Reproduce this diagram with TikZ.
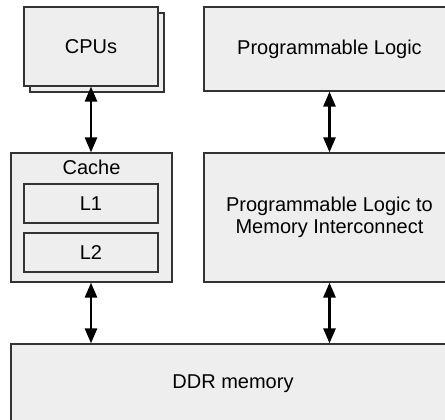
\documentclass[tikz,border=0pt]{standalone}
\usepackage{fontspec}
\setmainfont{Liberation Sans}
\usetikzlibrary{arrows.meta}
\definecolor{boxfill}{HTML}{EEEEEE}
\definecolor{boxline}{HTML}{333333}
\begin{document}
\begin{tikzpicture}[x=1pt,y=-1pt,
  block/.style={draw=boxline,fill=boxfill,line width=1.2pt,inner sep=0pt,
    font=\fontsize{20}{21.5}\selectfont,align=center},
  biarrow/.style={line width=2.6pt,black,
    {Triangle[width=12pt,length=15pt]}-{Triangle[width=12pt,length=15pt]}}]
\useasboundingbox (0,0) rectangle (445,420);
\clip (0,0) rectangle (445,420);
% CPU stack: back copy, then front box
\node[block,minimum width=134pt,minimum height=79pt] (cpuback) at (97,52.5) {};
\node[block,minimum width=134pt,minimum height=79pt] (cpu) at (91,46.5) {CPUs};
% cache with its two levels
\node[block,minimum width=161pt,minimum height=129pt] (cache) at (91.5,217.5) {};
\node[font=\fontsize{20}{22}\selectfont,inner sep=0pt] (cachelbl) at (91.5,167.5) {Cache};
\node[block,minimum width=134pt,minimum height=39pt] (l1) at (91,203.5) {L1};
\node[block,minimum width=134pt,minimum height=39pt] (l2) at (91,252.5) {L2};
% programmable logic side
\node[block,minimum width=251pt,minimum height=84pt] (pl) at (329.5,49) {Programmable Logic};
\node[block,minimum width=251pt,minimum height=129pt] (plmi) at (329.5,217.5)
  {Programmable Logic to\\Memory Interconnect};
% memory
\node[block,minimum width=444pt,minimum height=80pt] (ddr) at (233,384) {DDR memory};
% links
\draw[biarrow] (cpu.south) -- (cpu.south |- cache.north);
\draw[biarrow] (pl.south) -- (plmi.north);
\draw[biarrow] (cache.south -| cpu.south) -- (cpu.south |- ddr.north);
\draw[biarrow] (plmi.south) -- (plmi.south |- ddr.north);
\end{tikzpicture}
\end{document}
